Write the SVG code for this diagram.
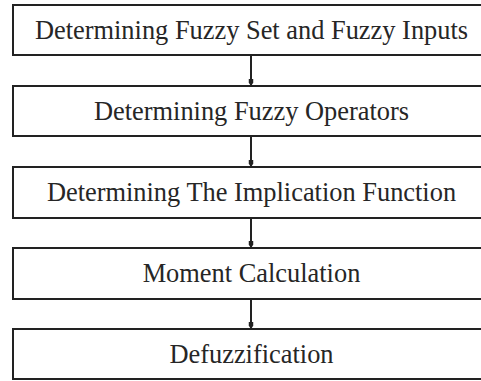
<svg xmlns="http://www.w3.org/2000/svg" width="481" height="381" viewBox="0 0 481 381">
<defs>
<style>
.box{fill:#fff;stroke:#222;stroke-width:2}
.lbl{font-family:"Liberation Serif","Times New Roman",serif;font-size:26.4px;fill:#262626;text-anchor:middle}
.con{stroke:#222;stroke-width:2;fill:none}
</style>
<marker id="ah" markerWidth="7" markerHeight="11" refX="11" refY="3.5" orient="auto" markerUnits="userSpaceOnUse" viewBox="0 0 11 7"><path d="M0,0 L6,0 L11,3.5 L6,7 L0,7 Z" fill="#222"/></marker>
</defs>
<rect width="481" height="381" fill="#fff"/>
<g id="connectors">
<line class="con" x1="251" y1="55" x2="251" y2="86" marker-end="url(#ah)"/>
<line class="con" x1="251" y1="136" x2="251" y2="167" marker-end="url(#ah)"/>
<line class="con" x1="251" y1="218" x2="251" y2="248" marker-end="url(#ah)"/>
<line class="con" x1="251" y1="299" x2="251" y2="329" marker-end="url(#ah)"/>
</g>
<g id="n1"><rect class="box" x="13" y="5" width="480" height="50"/><text class="lbl" x="251.5" y="39">Determining Fuzzy Set and Fuzzy Inputs</text></g>
<g id="n2"><rect class="box" x="13" y="86" width="480" height="50"/><text class="lbl" x="251.5" y="120">Determining Fuzzy Operators</text></g>
<g id="n3"><rect class="box" x="13" y="167" width="480" height="51"/><text class="lbl" x="251.5" y="201">Determining The Implication Function</text></g>
<g id="n4"><rect class="box" x="13" y="248" width="480" height="51"/><text class="lbl" x="251.5" y="282">Moment Calculation</text></g>
<g id="n5"><rect class="box" x="13" y="329" width="480" height="50"/><text class="lbl" x="251.5" y="363">Defuzzification</text></g>
</svg>
